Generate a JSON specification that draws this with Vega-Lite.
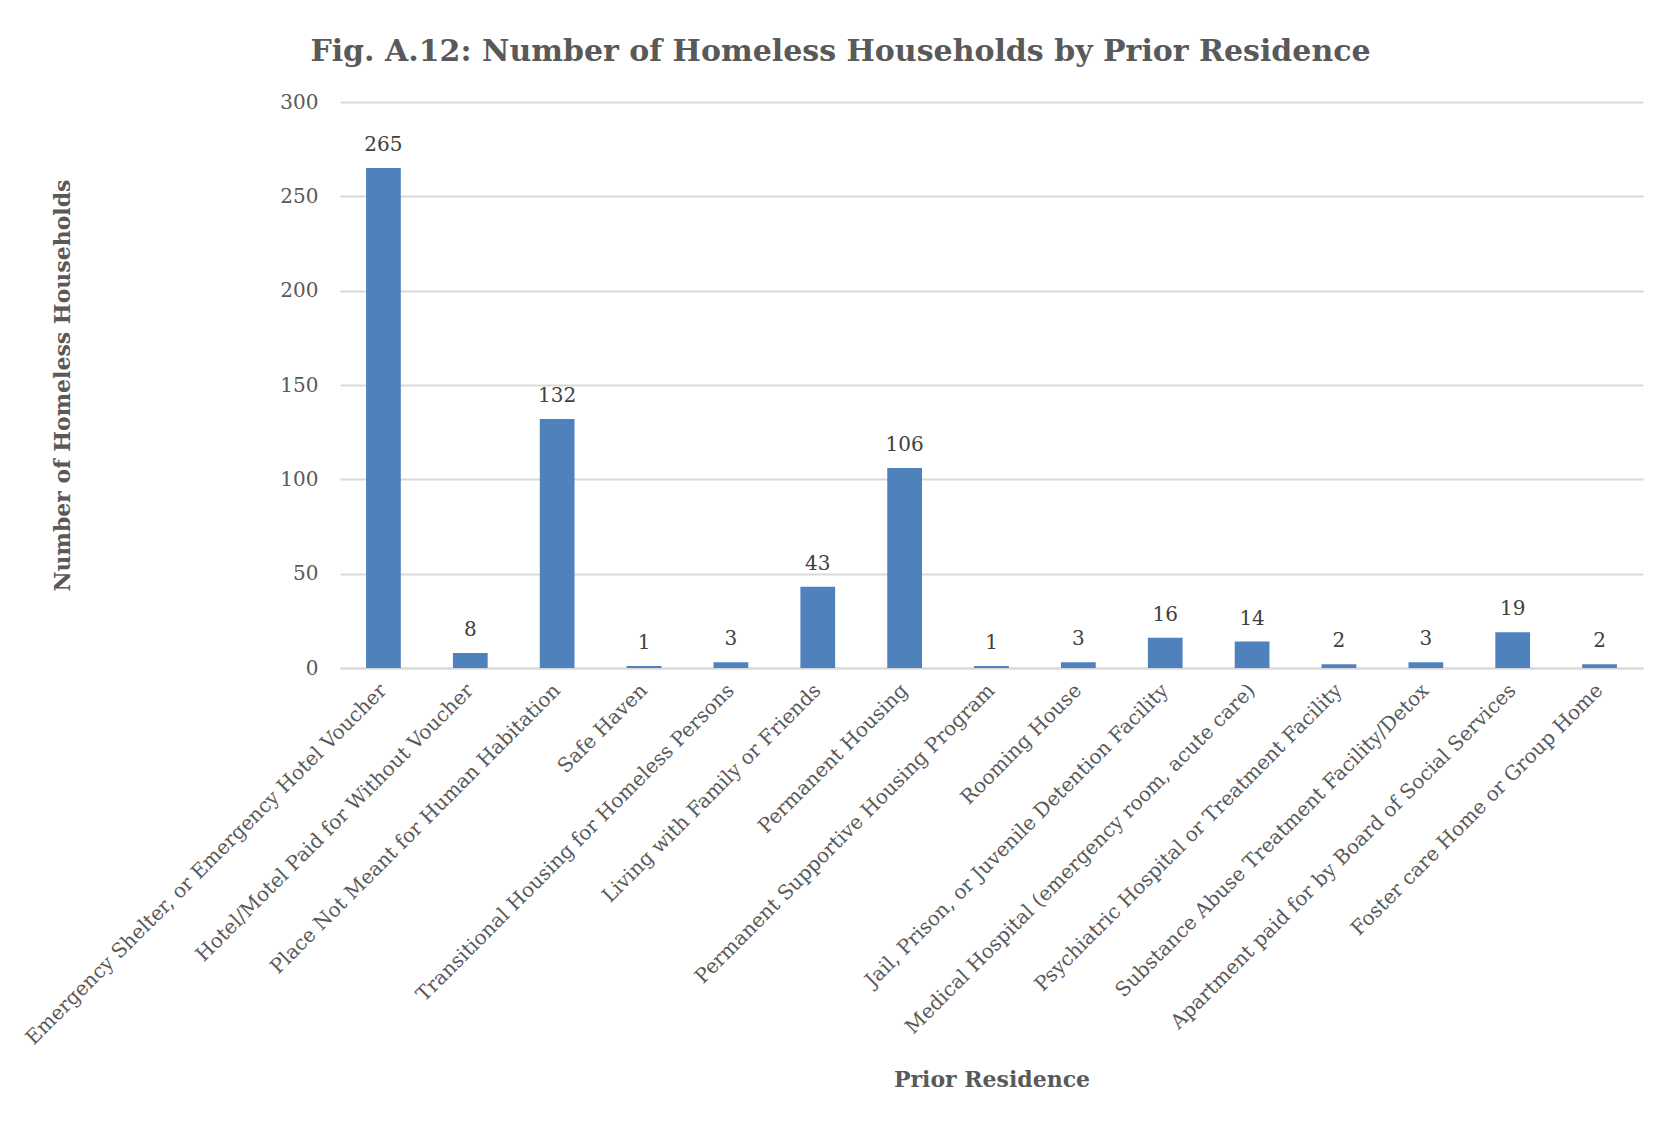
{
  "$schema": "https://vega.github.io/schema/vega-lite/v6.json",
  "autosize": {"type": "none"},
  "width": 1303,
  "height": 566,
  "padding": {"left": 340, "top": 102, "right": 24, "bottom": 457},
  "background": "white",
  "title": {
    "text": "Fig. A.12: Number of Homeless Households by Prior Residence",
    "font": "DejaVu Serif",
    "fontSize": 30,
    "fontWeight": "bold",
    "color": "#595959",
    "anchor": "middle",
    "baseline": "alphabetic",
    "offset": 1,
    "dx": -151
  },
  "data": {
    "values": [
      {"residence": "Emergency Shelter, or Emergency Hotel Voucher", "count": 265},
      {"residence": "Hotel/Motel Paid for Without Voucher", "count": 8},
      {"residence": "Place Not Meant for Human Habitation", "count": 132},
      {"residence": "Safe Haven", "count": 1},
      {"residence": "Transitional Housing for Homeless Persons", "count": 3},
      {"residence": "Living with Family or Friends", "count": 43},
      {"residence": "Permanent Housing", "count": 106},
      {"residence": "Permanent Supportive Housing Program", "count": 1},
      {"residence": "Rooming House", "count": 3},
      {"residence": "Jail, Prison, or Juvenile Detention Facility", "count": 16},
      {"residence": "Medical Hospital (emergency room, acute care)", "count": 14},
      {"residence": "Psychiatric Hospital or Treatment Facility", "count": 2},
      {"residence": "Substance Abuse Treatment Facility/Detox", "count": 3},
      {"residence": "Apartment paid for by Board of Social Services", "count": 19},
      {"residence": "Foster care Home or Group Home", "count": 2}
    ]
  },
  "encoding": {
    "x": {
      "field": "residence",
      "type": "nominal",
      "sort": null,
      "scale": {"paddingInner": 0.6, "paddingOuter": 0.3},
      "axis": {
        "title": "Prior Residence",
        "titleFont": "DejaVu Serif",
        "titleFontSize": 22,
        "titleFontWeight": "bold",
        "titleColor": "#595959",
        "titleBaseline": "middle",
        "titleY": 411,
        "labelAngle": -45,
        "labelAlign": "right",
        "labelBaseline": "middle",
        "labelFont": "DejaVu Serif",
        "labelFontSize": 20,
        "labelColor": "#595959",
        "labelPadding": 19,
        "labelLimit": 0,
        "labelOverlap": false,
        "ticks": false,
        "domainColor": "#d9d9d9",
        "domainWidth": 2
      }
    },
    "y": {
      "field": "count",
      "type": "quantitative",
      "scale": {"domain": [0, 300]},
      "axis": {
        "title": "Number of Homeless Households",
        "titleFont": "DejaVu Serif",
        "titleFontSize": 22,
        "titleFontWeight": "bold",
        "titleColor": "#595959",
        "titleX": -278,
        "titleY": 283,
        "titleAngle": -90,
        "titleBaseline": "middle",
        "titleAlign": "center",
        "values": [0, 50, 100, 150, 200, 250, 300],
        "labelFont": "DejaVu Serif",
        "labelFontSize": 20,
        "labelColor": "#595959",
        "labelPadding": 22,
        "ticks": false,
        "domain": false,
        "gridColor": "#d9d9d9",
        "gridWidth": 2
      }
    }
  },
  "layer": [
    {"mark": {"type": "bar", "color": "#4f81bd"}},
    {
      "mark": {
        "type": "text",
        "baseline": "bottom",
        "dy": -13,
        "font": "DejaVu Serif",
        "fontSize": 20,
        "color": "#404040"
      },
      "encoding": {"text": {"field": "count", "type": "quantitative"}}
    }
  ],
  "config": {"view": {"stroke": null}}
}
